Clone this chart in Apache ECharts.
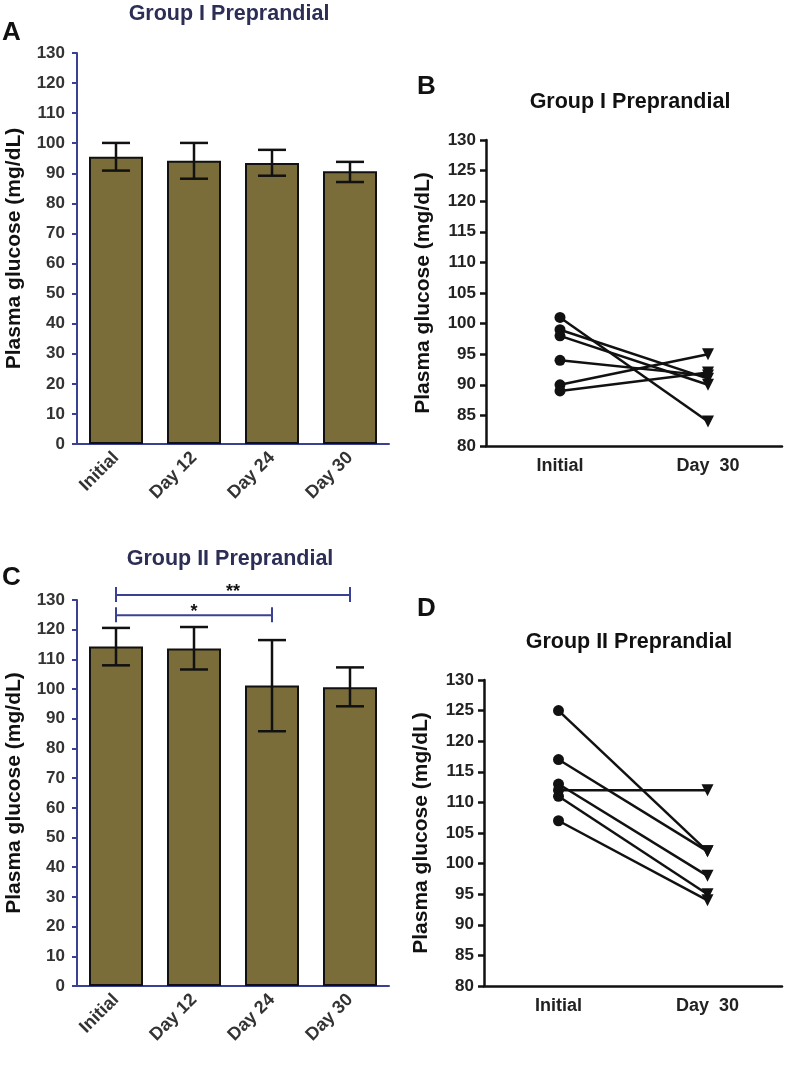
<!DOCTYPE html>
<html>
<head>
<meta charset="utf-8">
<script src="https://cdn.jsdelivr.net/npm/echarts@6/dist/echarts.min.js"></script>
<style>
html,body{margin:0;padding:0;background:#fff;}
#c{width:787px;height:1068px;}
</style>
</head>
<body>
<div id="c"></div>
<script>
// ---------- data ----------
const barCategories = ['Initial', 'Day 12', 'Day 24', 'Day 30'];
const groupIMean = [95.5, 94.2, 93.4, 90.7];
const groupIErrHigh = [100.1, 100.1, 97.8, 93.8];
const groupIErrLow = [90.9, 88.2, 89.2, 87.1];
const groupIIMean = [114.3, 113.7, 101.2, 100.6];
const groupIIErrHigh = [120.6, 120.9, 116.5, 107.3];
const groupIIErrLow = [108.0, 106.6, 85.8, 94.2];

const pairedCategories = ['Initial', 'Day 30'];
const groupIInitial = [101, 99, 98, 94, 90, 89];
const groupIDay30 = [84, 91, 90, 91.5, 95, 92];
const groupIIInitial = [125, 117, 113, 112, 111, 107];
const groupIIDay30 = [102, 102, 98, 112, 95, 94];

const barTicks = { min: 0, max: 130, interval: 10 };
const pairedTicks = { min: 80, max: 130, interval: 5 };

// significance brackets on panel C (category index from/to, value level, label)
const bracketFrom = [0, 0];
const bracketTo = [3, 2];
const bracketLevel = [131.7, 124.9];
const bracketLabel = ['**', '*'];

const titles = ['Group I Preprandial', 'Group I Preprandial', 'Group II Preprandial', 'Group II Preprandial'];
const panelLetters = ['A', 'B', 'C', 'D'];
const yName = 'Plasma glucose (mg/dL)';

// ---------- styles ----------
const FONT = '"Liberation Sans", Arial, Helvetica, sans-serif';
const NAVY = '#3b4192';
const NAVY_TXT = '#2c2e55';
const OLIVE = '#7a6d3a';
const INK = '#111111';

const chart = echarts.init(document.getElementById('c'));

function barXAxis(gi) {
  return {
    gridIndex: gi, type: 'category', data: barCategories, boundaryGap: true,
    axisLine: { lineStyle: { color: NAVY, width: 2 } },
    axisTick: { alignWithLabel: true, length: 7, lineStyle: { color: NAVY, width: 2 } },
    axisLabel: { rotate: 45, margin: 11, fontSize: 18, fontWeight: 'bold', color: '#333', fontFamily: FONT }
  };
}
function barYAxis(gi) {
  return {
    gridIndex: gi, type: 'value', min: barTicks.min, max: barTicks.max, interval: barTicks.interval,
    axisLine: { show: true, lineStyle: { color: NAVY, width: 2 } },
    axisTick: { show: true, length: 5, lineStyle: { color: NAVY, width: 2 } },
    splitLine: { show: false },
    axisLabel: { margin: 12, fontSize: 17, fontWeight: 'bold', color: '#333', fontFamily: FONT },
    name: yName, nameLocation: 'middle', nameGap: 52,
    nameTextStyle: { fontSize: 21, fontWeight: 'bold', color: INK, fontFamily: FONT }
  };
}
function pairXAxis(gi) {
  return {
    gridIndex: gi, type: 'category', data: pairedCategories, boundaryGap: true,
    axisLine: { lineStyle: { color: INK, width: 2.5 } },
    axisTick: { alignWithLabel: true, length: 7, lineStyle: { color: INK, width: 2.5 } },
    axisLabel: { margin: 11, fontSize: 18, fontWeight: 'bold', color: '#222', fontFamily: FONT,
      formatter: function (v) { return v.replace(' ', '  '); } }
  };
}
function pairYAxis(gi) {
  return {
    gridIndex: gi, type: 'value', min: pairedTicks.min, max: pairedTicks.max, interval: pairedTicks.interval,
    axisLine: { show: true, lineStyle: { color: INK, width: 2.5 } },
    axisTick: { show: true, length: 6, lineStyle: { color: INK, width: 2.5 } },
    splitLine: { show: false },
    axisLabel: { margin: 10, fontSize: 17, fontWeight: 'bold', color: '#222', fontFamily: FONT },
    name: yName, nameLocation: 'middle', nameGap: 52,
    nameTextStyle: { fontSize: 21, fontWeight: 'bold', color: INK, fontFamily: FONT }
  };
}

function barSeries(gi, means) {
  return {
    type: 'bar', xAxisIndex: gi, yAxisIndex: gi, data: means, barWidth: 54,
    itemStyle: { color: OLIVE, borderColor: INK, borderWidth: 2 }, silent: true
  };
}
function errorSeries(gi, lows, highs) {
  return {
    type: 'custom', xAxisIndex: gi, yAxisIndex: gi, clip: false, silent: true, z: 5,
    data: lows.map((lo, i) => [i, lo, highs[i]]),
    renderItem: function (params, api) {
      const hi = api.coord([api.value(0), api.value(2)]);
      const lo = api.coord([api.value(0), api.value(1)]);
      const hw = 14;
      const st = { stroke: INK, lineWidth: 2.5 };
      return {
        type: 'group', children: [
          { type: 'line', shape: { x1: hi[0], y1: hi[1], x2: lo[0], y2: lo[1] }, style: st },
          { type: 'line', shape: { x1: hi[0] - hw, y1: hi[1], x2: hi[0] + hw, y2: hi[1] }, style: st },
          { type: 'line', shape: { x1: lo[0] - hw, y1: lo[1], x2: lo[0] + hw, y2: lo[1] }, style: st }
        ]
      };
    }
  };
}
function pairSeries(gi, initial, day30) {
  return initial.map((v, i) => ({
    type: 'line', xAxisIndex: gi, yAxisIndex: gi, silent: true,
    lineStyle: { color: INK, width: 2.5 }, itemStyle: { color: INK },
    data: [
      { value: v, symbol: 'circle', symbolSize: 11 },
      { value: day30[i], symbol: 'triangle', symbolSize: 12, symbolRotate: 180 }
    ]
  }));
}
const bracketSeries = {
  type: 'custom', xAxisIndex: 2, yAxisIndex: 2, clip: false, silent: true, z: 6,
  data: bracketFrom.map((f, i) => [f, bracketTo[i], bracketLevel[i], i]),
  renderItem: function (params, api) {
    const a = api.coord([api.value(0), api.value(2)]);
    const b = api.coord([api.value(1), api.value(2)]);
    const st = { stroke: NAVY, lineWidth: 2 };
    const lbl = bracketLabel[api.value(3)];
    return {
      type: 'group', children: [
        { type: 'line', shape: { x1: a[0], y1: a[1], x2: b[0], y2: b[1] }, style: st },
        { type: 'line', shape: { x1: a[0], y1: a[1] - 8, x2: a[0], y2: a[1] + 7 }, style: st },
        { type: 'line', shape: { x1: b[0], y1: b[1] - 8, x2: b[0], y2: b[1] + 7 }, style: st },
        { type: 'text', style: { text: lbl, x: (a[0] + b[0]) / 2, y: a[1] - 3, align: 'center', verticalAlign: 'middle',
          font: 'bold 18px ' + FONT, fill: INK } }
      ]
    };
  }
};

function txt(text, x, y, size, color, align) {
  return { type: 'text', x: x, y: y, silent: true,
    style: { text: text, font: 'bold ' + size + 'px ' + FONT, fill: color, align: align || 'center', verticalAlign: 'top' } };
}

const option = {
  backgroundColor: '#ffffff',
  animation: false,
  grid: [
    { left: 77, top: 53, width: 312, height: 391 },
    { left: 486, top: 140, width: 296, height: 306 },
    { left: 77, top: 600, width: 312, height: 386 },
    { left: 484, top: 680, width: 298, height: 306 }
  ],
  xAxis: [barXAxis(0), pairXAxis(1), barXAxis(2), pairXAxis(3)],
  yAxis: [barYAxis(0), pairYAxis(1), barYAxis(2), pairYAxis(3)],
  series: [
    barSeries(0, groupIMean),
    errorSeries(0, groupIErrLow, groupIErrHigh),
    barSeries(2, groupIIMean),
    errorSeries(2, groupIIErrLow, groupIIErrHigh),
    bracketSeries
  ].concat(pairSeries(1, groupIInitial, groupIDay30), pairSeries(3, groupIIInitial, groupIIDay30)),
  graphic: [
    txt(titles[0], 229, 3, 21.5, NAVY_TXT),
    txt(titles[1], 630, 91, 21.5, INK),
    txt(titles[2], 230, 548, 21.5, NAVY_TXT),
    txt(titles[3], 629, 631, 21.5, INK),
    txt(panelLetters[0], 2, 20, 26, INK, 'left'),
    txt(panelLetters[1], 417, 74, 26, INK, 'left'),
    txt(panelLetters[2], 2, 565, 26, INK, 'left'),
    txt(panelLetters[3], 417, 596, 26, INK, 'left')
  ]
};
chart.setOption(option);
</script>
</body>
</html>
